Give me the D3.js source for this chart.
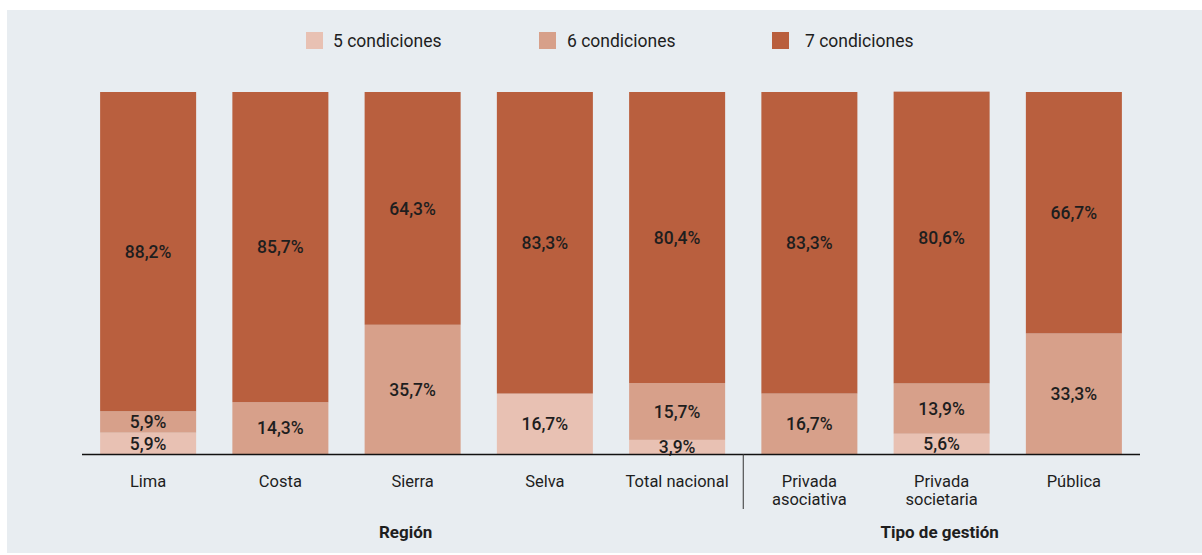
<!DOCTYPE html>
<html>
<head>
<meta charset="utf-8">
<script src="https://cdn.jsdelivr.net/npm/d3@7"></script>
<style>
  html, body { margin: 0; padding: 0; background: #ffffff; }
  svg { display: block; }
  text { font-family: Roboto, "Noto Sans", sans-serif; fill: #1e1e1e; }
</style>
</head>
<body>
<svg id="chart" width="1202" height="555"></svg>
<script>
const categories = ["Lima", "Costa", "Sierra", "Selva", "Total nacional", "Privada asociativa", "Privada societaria", "Pública"];
const categoryLines = [["Lima"], ["Costa"], ["Sierra"], ["Selva"], ["Total nacional"], ["Privada", "asociativa"], ["Privada", "societaria"], ["Pública"]];
const seriesNames = ["5 condiciones", "6 condiciones", "7 condiciones"];
const cond5 = [5.9, 0, 0, 16.7, 3.9, 0, 5.6, 0];
const cond6 = [5.9, 14.3, 35.7, 0, 15.7, 16.7, 13.9, 33.3];
const cond7 = [88.2, 85.7, 64.3, 83.3, 80.4, 83.3, 80.6, 66.7];
const groups = [
  { name: "Región", from: "Lima", to: "Total nacional", shift: -7 },
  { name: "Tipo de gestión", from: "Privada asociativa", to: "Pública", shift: -2 }
];
const colors = ["#e8c1b3", "#d7a08a", "#b95f3e"];

const svg = d3.select("#chart");
svg.append("rect").attr("x", 7).attr("y", 10).attr("width", 1195).attr("height", 543).attr("fill", "#e8edf1");

const x = d3.scaleBand().domain(categories).range([82, 1140]).paddingInner(0.274).paddingOuter(0.137);
const y = d3.scaleLinear().domain([0, 100]).range([454, 92]);

const rows = categories.map((c, i) => ({ cat: c, s0: cond5[i], s1: cond6[i], s2: cond7[i] }));
const stack = d3.stack().keys(["s0", "s1", "s2"]);
const layers = stack(rows);

const fmt = v => d3.format(".1f")(v).replace(".", ",") + "%";

layers.forEach((layer, li) => {
  const g = svg.append("g");
  g.selectAll("rect").data(layer.filter(d => d[1] - d[0] > 0)).join("rect")
    .attr("x", d => x(d.data.cat))
    .attr("width", x.bandwidth())
    .attr("y", d => y(d[1]))
    .attr("height", d => y(d[0]) - y(d[1]))
    .attr("fill", colors[li]);
  g.selectAll("text").data(layer.filter(d => d[1] - d[0] > 0)).join("text")
    .attr("x", d => x(d.data.cat) + x.bandwidth() / 2)
    .attr("y", d => (y(d[0]) + y(d[1])) / 2)
    .attr("dy", "0.36em")
    .attr("text-anchor", "middle")
    .attr("font-size", 17.5)
    .attr("font-weight", 500)
    .attr("fill", "#1a1a1a")
    .text(d => fmt(d[1] - d[0]));
});

// baseline axis
svg.append("line").attr("x1", 82).attr("x2", 1140).attr("y1", y(0) + 0.5).attr("y2", y(0) + 0.5)
  .attr("stroke", "#111").attr("stroke-width", 1.5);

// divider between groups
const divX = (x("Total nacional") + x.bandwidth() + x("Privada asociativa")) / 2;
svg.append("line").attr("x1", divX).attr("x2", divX).attr("y1", y(0)).attr("y2", 509)
  .attr("stroke", "#333").attr("stroke-width", 1);

// category labels
categories.forEach((c, i) => {
  const t = svg.append("text")
    .attr("x", x(c) + x.bandwidth() / 2)
    .attr("y", 487)
    .attr("text-anchor", "middle")
    .attr("font-size", 16.5)
    .attr("fill", "#2a2a2a");
  categoryLines[i].forEach((ln, j) => {
    t.append("tspan").attr("x", x(c) + x.bandwidth() / 2).attr("dy", j === 0 ? 0 : 17.5).text(ln);
  });
});

// group labels
groups.forEach(gr => {
  const cx = (x(gr.from) + x(gr.to) + x.bandwidth()) / 2 + gr.shift;
  svg.append("text").attr("x", cx).attr("y", 538).attr("text-anchor", "middle")
    .attr("font-size", 17).attr("font-weight", "bold").attr("fill", "#111").text(gr.name);
});

// legend
const legendX = [306, 539, 772];
const legendTextX = [333, 567, 805];
seriesNames.forEach((s, i) => {
  svg.append("rect").attr("x", legendX[i]).attr("y", 32).attr("width", 17).attr("height", 17).attr("fill", colors[i]);
  svg.append("text").attr("x", legendTextX[i]).attr("y", 46.5).attr("font-size", 17.5).text(s);
});
</script>
</body>
</html>
